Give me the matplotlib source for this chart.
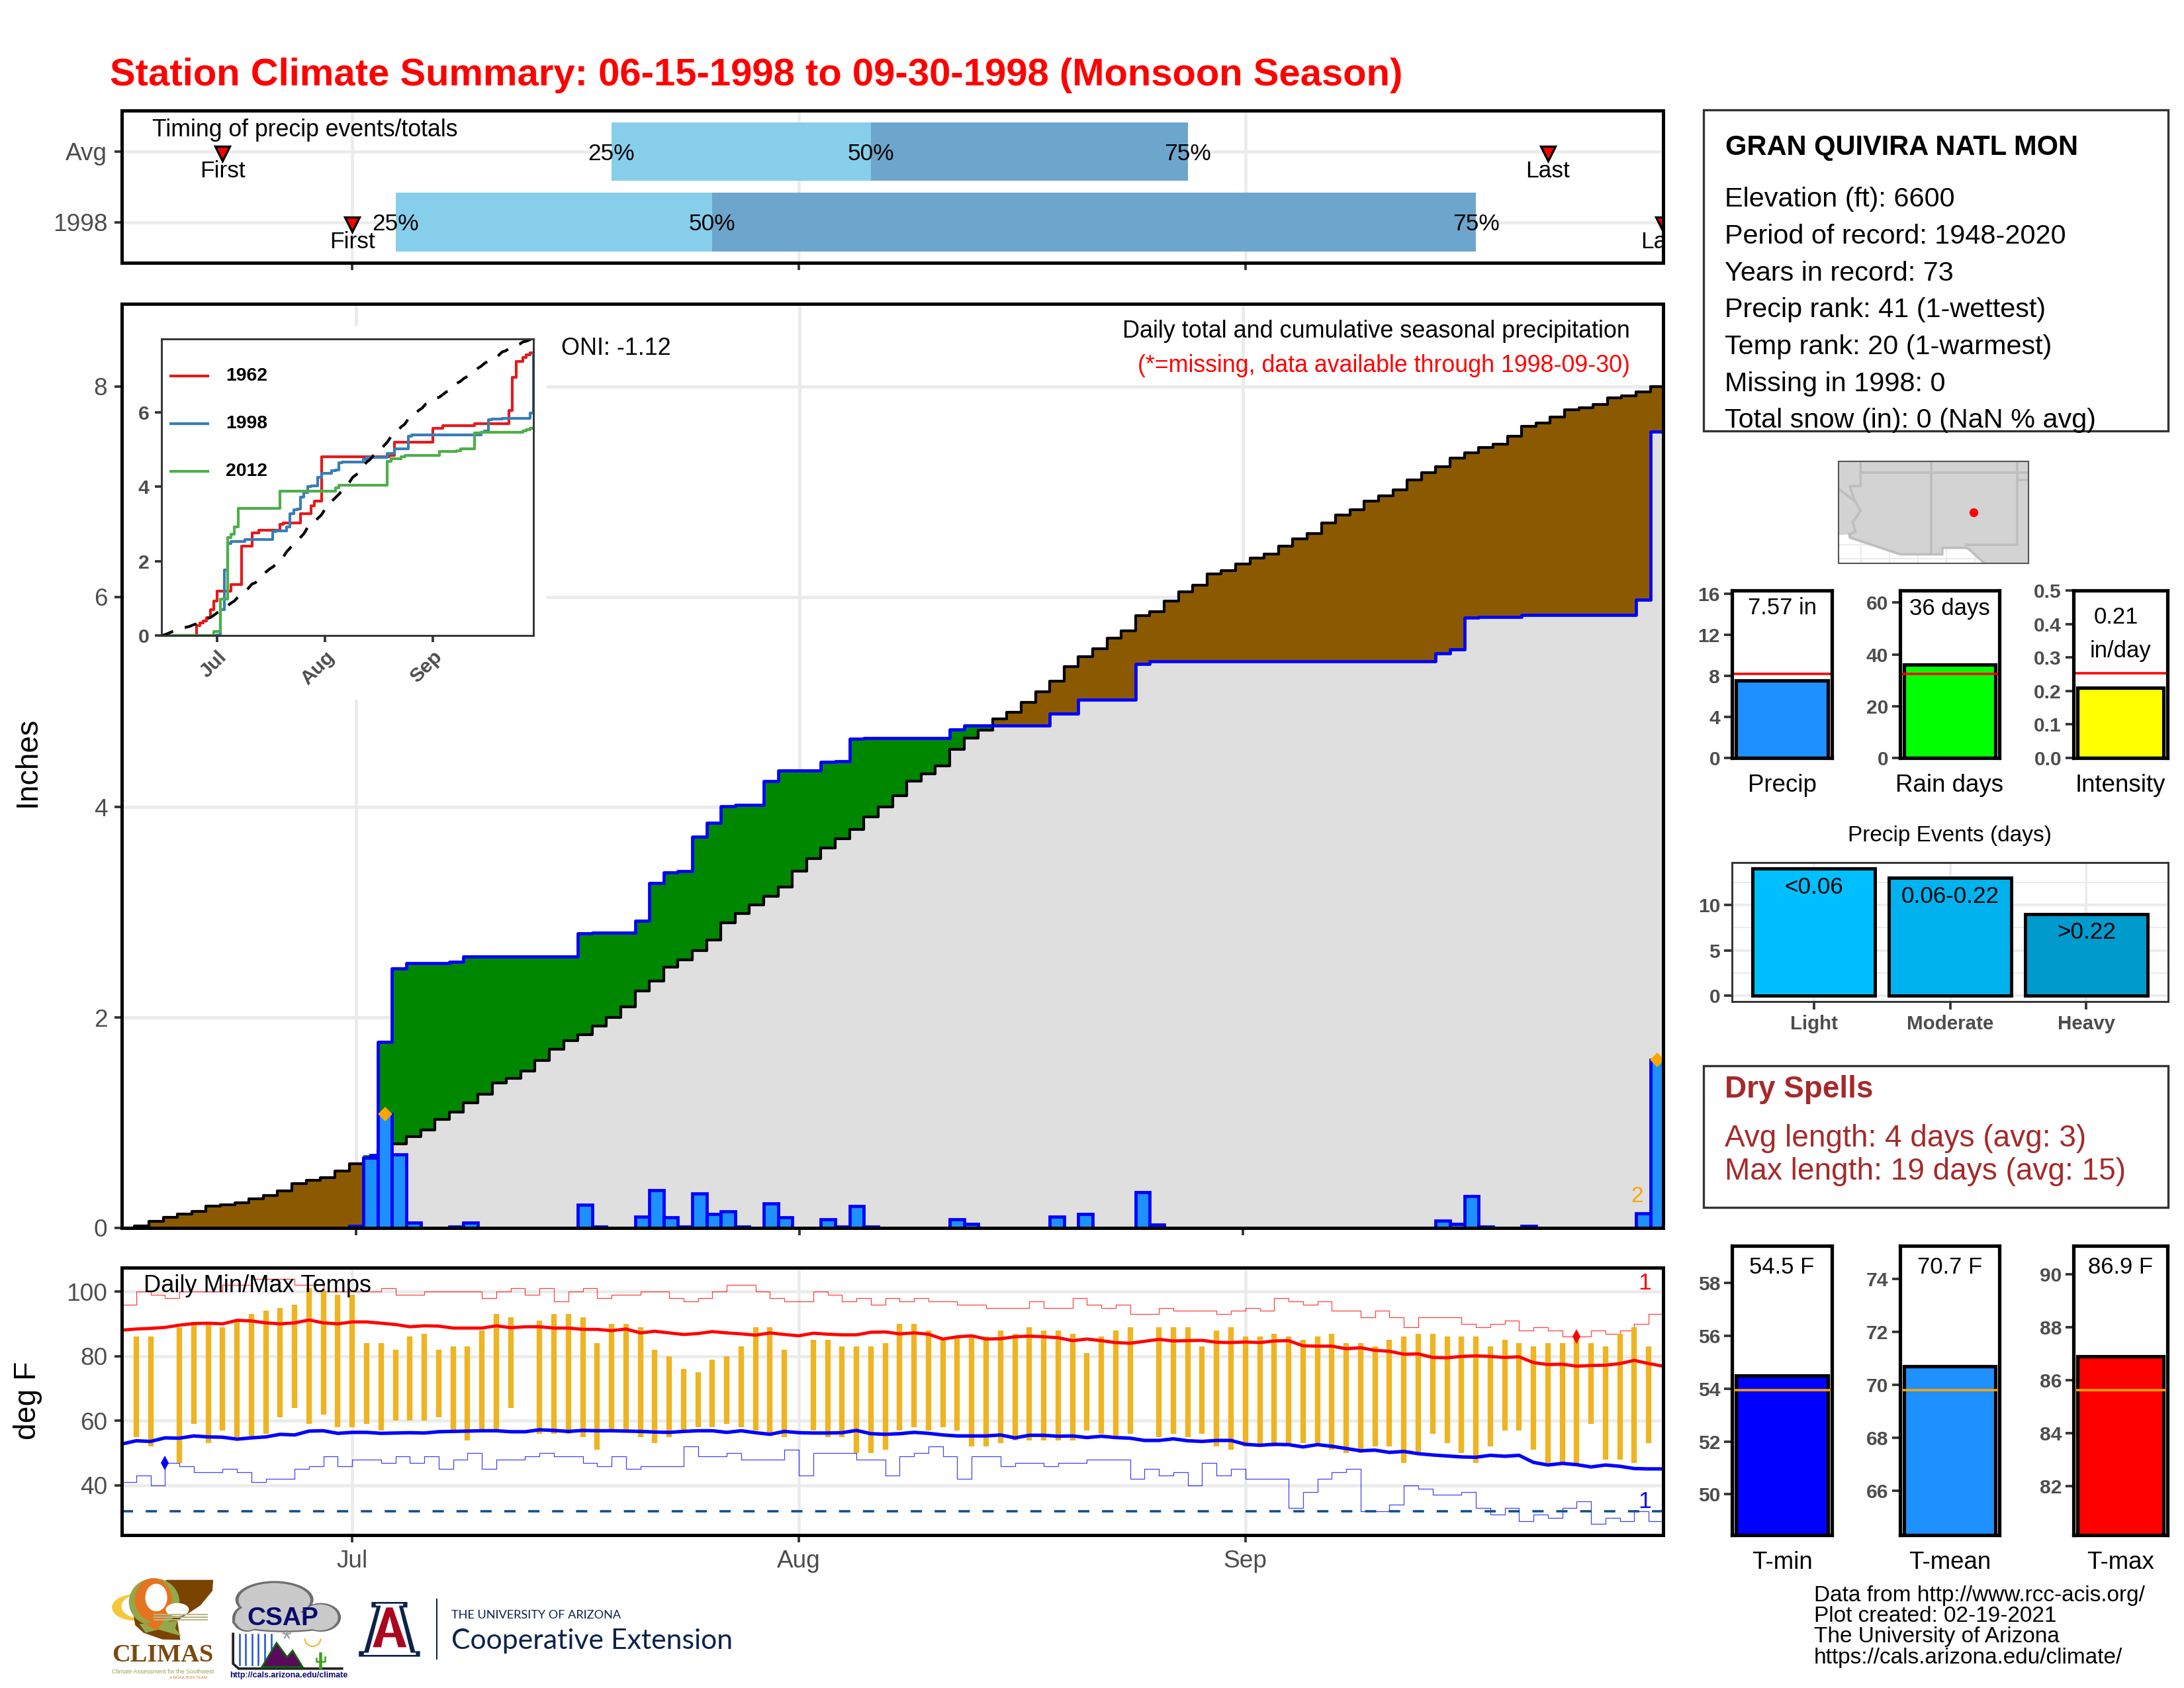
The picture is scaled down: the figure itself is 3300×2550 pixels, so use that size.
import numpy as np
import matplotlib
matplotlib.use("Agg")
import matplotlib.pyplot as plt
from matplotlib.patches import Rectangle, Ellipse, Polygon, Circle

plt.rcParams['font.family'] = ['Liberation Sans', 'DejaVu Sans']

W, H = 3300, 2550
GRID = '#EBEBEB'
TICK = '#333333'
LAB = '#4D4D4D'

# ---------- data ----------
days = np.arange(108)
month_ticks = [16, 47, 78]
month_labels = ['Jul', 'Aug', 'Sep']

daily_precip = [0]*16 + [.02, .67, 1.08, .70, .05, 0, 0, .01, .05] + [0]*7 + [.22, .01, 0, 0, .11, .36, .10, .01, .33, .13, .16, .01, 0, .23, .10, 0, 0, .08, .01, .21, .01] + [0]*5 + [.08, .04] + [0]*5 + [.11, 0, .13, 0, 0, 0, .34, .03] + [0]*19 + [.07, .04, .30, .01, 0, 0, .02] + [0]*7 + [.14, 1.60]

avg_cum = [0, .02, .06, .10, .13, .16, .21, .22, .24, .28, .31, .35, .42, .45, .48, .54, .61, .65, .75, .80,
           .87, .93, 1.03, 1.10, 1.19, 1.27, 1.38, 1.42, 1.49, 1.59, 1.70, 1.78, 1.84, 1.92, 2.00, 2.10, 2.25, 2.35, 2.48, 2.55,
           2.64, 2.74, 2.90, 2.99, 3.07, 3.15, 3.24, 3.39, 3.51, 3.61, 3.70, 3.79, 3.91, 4.00, 4.11, 4.25, 4.32, 4.39, 4.55, 4.66,
           4.73, 4.84, 4.90, 5.00, 5.10, 5.20, 5.34, 5.43, 5.51, 5.61, 5.68, 5.82, 5.86, 5.96, 6.05, 6.11, 6.22, 6.25, 6.31, 6.37,
           6.41, 6.48, 6.55, 6.60, 6.70, 6.78, 6.83, 6.91, 6.96, 7.02, 7.11, 7.18, 7.24, 7.32, 7.37, 7.42, 7.45, 7.53, 7.62, 7.65,
           7.71, 7.78, 7.80, 7.83, 7.89, 7.91, 7.95, 8.00]

year1962_x = [0, 10, 11, 12, 13, 14, 15, 16, 20, 23, 26, 28, 34, 35, 40, 43, 44, 46, 65.5, 67, 78, 81, 90, 100, 101, 102, 104, 105, 106, 107]
year1962_y = [0, .27, .34, .40, .48, .70, .92, 1.20, 1.37, 2.41, 2.76, 2.83, 2.98, 3.03, 3.27, 3.48, 3.62, 4.81, 4.84, 5.19, 5.57, 5.64, 5.70, 6.05, 6.94, 7.37, 7.47, 7.55, 7.59, 7.59]
year2012_x = [0, 15, 17, 19, 20, 21, 22, 34, 50, 51, 65, 66, 69, 70, 80, 85, 86, 90, 92, 104, 105, 106, 107]
year2012_y = [0, .10, .97, 2.63, 2.72, 2.91, 3.42, 3.88, 3.97, 4.04, 4.68, 4.75, 4.80, 4.84, 4.94, 4.97, 5.01, 5.44, 5.47, 5.50, 5.53, 5.57, 5.57]

nan = float('nan')
temp_high = [nan, 86, 86, nan, 89, 90, 90, 89, 91, 93, 94, 95, 96, 101, 100, 99, 99, 84, 84, 82, 86, 87, 82, 83, 83, 88, 93, 92, nan, 91,
             93, 93, 92, 84, 90, 90, 89, 82, 80, 76, 75, 79, 80, 83, 89, 89, 82, nan, 85, 85, 83, 83, 83, 84,
             90, 90, 88, 85, 86, 86, 86, 88, 87, 89, 88, 88, 87, 81, 86, 88, 89, nan, 89, 89, 89, 83, 88, 89, 86, 86,
             87, 86, 85, 86, 87, 84, 84, 83, 85, 86, 87, 87, 86, 86, 86, 83, 85, 84, 83, 84, 84, 85, 84, 83, 87, 89, 83, nan]
temp_low = [nan, 55, 52, nan, 47, 59, 53, 57, 55, 55, 56, 61, 64, 59, 62, 58, 58, 59, 57, 60, 60, 60, 61, 57, 54, 57, 57, 64, nan, 56,
            56, 56, 55, 51, 57, 57, 55, 53, 55, 57, 58, 58, 59, 58, 57, 56, 55, nan, 57, 55, 55, 50, 50, 51,
            57, 58, 57, 58, 57, 52, 52, 53, 54, 54, 54, 54, 54, 57, 56, 55, 56, nan, 55, 56, 55, 56, 52, 51, 52, 52,
            52, 53, 53, 53, 51, 50, 50, 52, 52, 47, 50, 56, 53, 50, 47, 52, 57, 57, 51, 47, 47, 46, 59, 48, 48, 47, 53, nan]
avg_max = [88.05, 88.4, 88.6, 88.9, 89.6, 90.1, 90.2, 90.0, 91.1, 90.9, 90.3, 90.0, 90.3, 91.2, 90.3, 90.0, 90.6, 90.6, 90.2, 89.8,
           89.1, 89.4, 89.3, 88.7, 88.7, 88.7, 89.4, 88.8, 89.1, 89.1, 88.7, 88.7, 88.3, 88.3, 87.9, 88.4, 87.2, 87.7, 87.2, 86.7,
           87.0, 87.6, 87.2, 86.9, 86.5, 87.2, 86.7, 86.3, 87.1, 86.8, 86.6, 86.6, 87.4, 87.5, 86.9, 87.2, 86.8, 85.3, 86.0, 86.3,
           85.3, 85.4, 86.0, 86.2, 86.0, 85.7, 84.8, 85.3, 84.8, 84.2, 84.0, 84.6, 85.2, 84.7, 84.8, 84.9, 84.3, 84.2, 84.4, 84.2,
           84.7, 84.8, 83.2, 83.1, 83.1, 82.3, 82.6, 81.8, 81.5, 80.6, 80.7, 79.6, 79.5, 79.9, 80.1, 79.9, 79.6, 79.8, 78.0, 77.4,
           77.5, 76.9, 77.1, 77.2, 77.7, 78.7, 77.7, 76.9]
avg_min = [52.8, 53.8, 53.6, 54.7, 54.6, 55.3, 55.0, 54.9, 54.3, 54.7, 55.0, 55.8, 55.6, 56.8, 56.9, 56.1, 56.4, 56.4, 56.1, 56.2,
           56.3, 56.2, 56.6, 56.7, 56.8, 56.9, 56.9, 56.6, 56.6, 57.2, 57.0, 56.7, 57.0, 56.9, 56.9, 56.8, 56.7, 56.5, 56.4, 56.7,
           56.9, 56.9, 56.4, 56.9, 56.3, 55.8, 56.7, 56.3, 56.2, 56.2, 56.3, 57.0, 56.0, 55.8, 56.0, 56.4, 56.1, 55.6, 55.3, 55.3,
           55.3, 55.6, 54.7, 55.5, 55.5, 55.2, 55.3, 54.8, 55.2, 54.8, 54.6, 53.9, 53.9, 54.4, 53.8, 53.6, 53.9, 53.9, 52.7, 52.4,
           52.7, 52.6, 51.9, 52.6, 52.1, 51.4, 50.7, 50.9, 50.2, 50.5, 49.8, 49.4, 49.1, 48.8, 48.7, 49.3, 49.0, 49.3, 47.1, 46.3,
           46.8, 46.4, 45.7, 46.3, 45.9, 45.2, 45.1, 45.1]
record_high = [96, 100, 99, 98, 100, 100, 100, 102, 102, 104, 104, 104, 102, 102, 100, 100, 100, 100, 101, 99, 99, 100, 100, 100, 100, 98, 100, 101, 99, 101,
               97, 100, 101, 98, 99, 99, 100, 100, 98, 97, 98, 100, 102, 102, 100, 98, 97, 97, 100, 99, 97, 98, 96, 98,
               97, 98, 97, 97, 96, 96, 95, 95, 95, 97, 95, 95, 98, 96, 95, 96, 93, 93, 95, 94, 94, 94, 93, 94, 95, 94,
               98, 97, 96, 97, 94, 94, 92, 94, 92, 89, 92, 92, 92, 90, 89, 90, 91, 88, 89, 88, 86, 86, 88, 87, 88, 90, 93, 93]
record_low = [41, 43, 40, 47, 46, 44, 44, 45, 44, 41, 42, 42, 45, 46, 49, 46, 48, 48, 47, 49, 47, 49, 45, 48, 50, 45, 48, 48, 49, 50,
              49, 49, 47, 46, 49, 45, 46, 46, 46, 52, 49, 49, 50, 48, 48, 48, 51, 43, 50, 50, 50, 48, 48, 43,
              49, 50, 52, 49, 42, 49, 49, 46, 47, 47, 46, 47, 47, 48, 48, 48, 42, 45, 43, 44, 40, 47, 43, 45, 42, 42,
              42, 33, 38, 42, 44, 45, 32, 32, 34, 40, 39, 37, 37, 38, 33, 31, 33, 29, 31, 30, 33, 35, 28, 30, 29, 32, 29, 29]

timing_rows = ['Avg', '1998']
timing_q25 = [34, 19]
timing_q50 = [52, 41]
timing_q75 = [74, 94]
timing_first = [7, 16]
timing_last = [99, 107]

stat_names = ['Precip', 'Rain days', 'Intensity']
stat_values = [7.57, 36, 0.21]
stat_avgs = [8.2, 32.6, 0.252]
event_names = ['Light', 'Moderate', 'Heavy']
event_labels = ['<0.06', '0.06-0.22', '>0.22']
event_counts = [14, 13, 9]
temp_names = ['T-min', 'T-mean', 'T-max']
temp_bar_tops = [54.5, 70.7, 86.9]
temp_avgs = [53.94, 69.79, 85.62]
temp_texts = ['54.5 F', '70.7 F', '86.9 F']

# ---------- helpers ----------
fig = plt.figure(figsize=(11, 8.5), dpi=300, facecolor='white')

def panel(x0, x1, y0, y1, z=1):
    a = fig.add_axes([x0/W, 1-y1/H, (x1-x0)/W, (y1-y0)/H], zorder=z)
    return a

ov = fig.add_axes([0, 0, 1, 1], zorder=20)
ov.set_xlim(0, W); ov.set_ylim(H, 0); ov.axis('off'); ov.patch.set_alpha(0)

def T(x, y, s, size=8.3, color='black', ha='left', va='center', weight='normal', **kw):
    return ov.text(x, y+3, s, fontsize=size, color=color, ha=ha, va=va, fontweight=weight, **kw)

def fit(t, px):
    r = fig.canvas.get_renderer()
    e = t.get_window_extent(r).width
    t.set_fontsize(t.get_fontsize()*px/e)

def style(a, lw=1.2, color='black'):
    for s in a.spines.values():
        s.set_linewidth(lw); s.set_color(color); s.set_zorder(15)
    a.tick_params(length=2.6, width=0.9, color=TICK, labelcolor=LAB, labelsize=8.9, pad=2.6)
    a.set_axisbelow(True)

# ---------- title ----------
fit(T(166, 111, 'Station Climate Summary: 06-15-1998 to 09-30-1998 (Monsoon Season)', size=14, color='#FF0000', weight='bold'), 1954)

# ---------- timing panel ----------
top = panel(184, 2513, 167, 397)
style(top)
top.set_xlim(0, 107); top.set_ylim(0.424, 2.58)
top.set_xticks(month_ticks); top.set_xticklabels([])
top.set_yticks([2, 1]); top.set_yticklabels(timing_rows)
top.grid(True, color=GRID, lw=1.1)
for k, row_y in enumerate([2, 1]):
    top.barh(row_y, timing_q50[k]-timing_q25[k], left=timing_q25[k], height=.83, color='#87CEEB', zorder=2)
    top.barh(row_y, timing_q75[k]-timing_q50[k], left=timing_q50[k], height=.83, color='#6CA6CD', zorder=2)
    for q, lab in zip([timing_q25[k], timing_q50[k], timing_q75[k]], ['25%', '50%', '75%']):
        top.text(q, row_y-.03, lab, fontsize=8.5, ha='center', va='center', zorder=5)
    for d, lab in [(timing_first[k], 'First'), (timing_last[k], 'Last')]:
        top.plot([d], [row_y-.03], marker='v', ms=5.2, mfc='#FF0000', mec='black', mew=.8, zorder=6, clip_on=True)
        top.text(d, row_y-.28, lab, fontsize=8.5, ha='center', va='center', zorder=6, clip_on=True)
T(230, 193, 'Timing of precip events/totals', size=8.57)

# ---------- main precip panel ----------
ax = panel(184, 2513, 459, 1855)
style(ax)
ax.set_xlim(-0.4, 107.4); ax.set_ylim(0, 8.786)
ax.set_xticks(month_ticks); ax.set_xticklabels([])
ax.set_yticks([0, 2, 4, 6, 8])
ax.grid(True, color=GRID, lw=1.2)
cum = np.cumsum(daily_precip)
xe = np.r_[-1, days, 108]
ae = np.r_[0, np.array(avg_cum), avg_cum[-1]]
ce = np.r_[0, cum, cum[-1]]
ax.fill_between(xe, 0, np.minimum(ae, ce), step='mid', color='#DFDFDF', lw=0, zorder=2)
ax.fill_between(xe, ae, np.maximum(ae, ce), step='mid', color='#008700', lw=0, zorder=2)
ax.fill_between(xe, ce, np.maximum(ae, ce), step='mid', color='#8B5A00', lw=0, zorder=2)
ax.step(xe, ae, where='mid', color='black', lw=1.0, zorder=3)
ax.step(xe[18:], ce[18:], where='mid', color='#0000FF', lw=1.15, zorder=4)
nz = np.array(daily_precip) > 0
ax.bar(days[nz], np.array(daily_precip)[nz], width=1, color='#1E90FF', edgecolor='#0000FF', lw=1.15, zorder=5)
ax.plot([18, 107], [daily_precip[18], daily_precip[107]], ls='none', marker='D', ms=2.6, color='#FFA500', zorder=7, clip_on=False)
ax.text(105.6, 0.30, '2', fontsize=8, color='#FFA500', ha='center', va='center', zorder=7)

T(2463, 497, 'Daily total and cumulative seasonal precipitation', size=8.64, ha='right')
T(2463, 549, '(*=missing, data available through 1998-09-30)', size=8.6, color='#FF0000', ha='right')
T(848, 523, 'ONI: -1.12', size=8.65)
T(42, 1148, 'Inches', size=11.1, ha='center', rotation=90)

# white backing + inset
bg = panel(187, 826, 492, 1057, z=5)
bg.axis('off'); bg.add_patch(Rectangle((0, 0), 1, 1, color='white', transform=bg.transAxes))
ins = panel(244, 806, 512, 960, z=6)
style(ins, lw=.7, color=TICK)
ins.set_xlim(0, 107); ins.set_ylim(0, 7.97)
ins.set_xticks(month_ticks); ins.set_xticklabels(month_labels, rotation=45, ha='right', rotation_mode='anchor', fontweight='bold', fontsize=7.3, color=LAB)
ins.set_yticks([0, 2, 4, 6]); ins.set_yticklabels(['0', '2', '4', '6'], fontweight='bold', fontsize=7.3, color=LAB)
ins.tick_params(length=2.4, width=.9, color=TICK, pad=2)
ins.step(year1962_x, year1962_y, where='post', color='#E41A1C', lw=1.0, zorder=3)
ins.step(days, cum, where='post', color='#377EB8', lw=1.0, zorder=4)
ins.step(year2012_x, year2012_y, where='post', color='#4DAF4A', lw=1.0, zorder=5)
ins.plot(days, avg_cum, color='black', lw=1.0, dashes=(4.5, 4.5), zorder=6)
for yy, name, c in [(568, '1962', '#E41A1C'), (640, '1998', '#377EB8'), (712, '2012', '#4DAF4A')]:
    ov.plot([257.5, 314], [yy, yy], color=c, lw=1.0)
    T(341, yy-3, name, size=6.8, weight='bold')

# ---------- temperature panel ----------
tp = panel(184, 2513, 1915, 2319)
style(tp)
tp.set_xlim(0, 107); tp.set_ylim(24.6, 107.4)
tp.set_xticks(month_ticks); tp.set_xticklabels(month_labels)
tp.set_yticks([40, 60, 80, 100])
tp.grid(True, color=GRID, lw=1.1)
tp.step(days, record_high, where='post', color='#FF0000', lw=.3, alpha=.75, zorder=3)
tp.step(days, record_low, where='post', color='#0000FF', lw=.3, alpha=.75, zorder=3)
tp.vlines(days, temp_low, temp_high, color='#EEB422', lw=2.0, zorder=4)
tp.axhline(32, color='#104E8B', lw=.85, dashes=(4.8, 5.4), zorder=4)
tp.plot(days, avg_max, color='#FF0000', lw=1.15, zorder=5)
tp.plot(days, avg_min, color='#0000FF', lw=1.25, zorder=5)
tp.plot([3], [record_low[3]], marker='d', ms=3.6, color='#0000FF', mew=0, zorder=6)
tp.plot([101], [record_high[101]], marker='d', ms=3.6, color='#FF0000', mew=0, zorder=6)
T(217, 1939, 'Daily Min/Max Temps', size=8.7)
T(2485, 1936, '1', size=8.5, color='#FF0000', ha='center')
T(2485, 2266, '1', size=8.5, color='#0000FF', ha='center')
T(42, 2113, 'deg F', size=11.1, ha='center', rotation=90)

# ---------- info box ----------
ov.add_patch(Rectangle((2574, 166), 702, 485, fc='none', ec=TICK, lw=.8))
T(2607, 220, 'GRAN QUIVIRA NATL MON', size=10, weight='bold')
info = ['Elevation (ft): 6600', 'Period of record: 1948-2020', 'Years in record: 73', 'Precip rank: 41 (1-wettest)',
        'Temp rank: 20 (1-warmest)', 'Missing in 1998: 0', 'Total snow (in): 0 (NaN % avg)']
for yy, s in zip([298, 354, 410, 465, 521, 577, 632], info):
    T(2606, yy, s, size=9.95)

# ---------- map ----------
mp = panel(2778, 3065, 697, 851)
mp.set_xlim(-115.6, -102.2); mp.set_ylim(30.7, 37.8)
mp.set_xticks([]); mp.set_yticks([])
for s in mp.spines.values():
    s.set_linewidth(.5); s.set_color('#555555')
for v in [-114, -112, -110, -108, -106, -104]:
    mp.axvline(v, color=GRID, lw=.5, zorder=0)
for v in [31, 32]:
    mp.axhline(v, color=GRID, lw=.5, zorder=0)
land_lon = [-115.6, -114.83, -114.8, -111.25, -108.28, -108.28, -106.6, -106.41, -105.3, -102.2, -102.2, -115.6]
land_lat = [32.67, 32.72, 32.5, 31.33, 31.33, 31.78, 31.78, 31.7, 30.7, 30.7, 37.8, 37.8]
mp.fill(land_lon, land_lat, color='#D3D3D3', lw=0, zorder=1)
bc = '#BEBEBE'
mp.plot(land_lon[1:9], land_lat[1:9], color=bc, lw=.9, zorder=2)
mp.plot([-114.05, -114.05, -114.8, -114.5, -114.05, -114.6, -114.4, -114.83], [37.8, 36.08, 36.08, 35.15, 34.35, 33.55, 32.9, 32.72], color=bc, lw=.9, zorder=2)
mp.plot([-115.6, -114.55], [35.9, 35.1], color=bc, lw=.9, zorder=2)
mp.plot([-109.05, -109.05], [37.8, 31.33], color=bc, lw=.9, zorder=2)
mp.plot([-114.05, -102.2], [37, 37], color=bc, lw=.9, zorder=2)
mp.plot([-103.0, -103.0, -106.6], [37.8, 32.0, 32.0], color=bc, lw=.9, zorder=2)
mp.plot([-103.0, -102.2], [36.5, 36.5], color=bc, lw=.9, zorder=2)
mp.plot([-106.09], [34.26], 'o', color='#FF0000', ms=3.2, mew=0, zorder=3)

# ---------- small stat bars ----------
def small_bar(x0, x1, y0, y1, val, avg, color, ylim, ticks, ticklabels, avgc, edge='black'):
    a = panel(x0, x1, y0, y1)
    style(a, lw=1.25)
    a.set_xlim(0, 1); a.set_ylim(*ylim)
    a.set_xticks([]); a.set_yticks(ticks); a.set_yticklabels(ticklabels, fontweight='bold', fontsize=7.2, color=LAB)
    a.tick_params(length=2.8, width=.9, color=TICK, pad=1.5)
    a.bar(.5, val, width=.92, color=color, edgecolor=edge, lw=1.25, zorder=3, bottom=0)
    a.axhline(avg, color=avgc, lw=.85, zorder=5)
    return a

c1, c2, c3 = (2617, 2768), (2871, 3021), (3133, 3275)
small_bar(*c1, 892, 1145, stat_values[0], stat_avgs[0], '#1E90FF', (0, 16.3), [0, 4, 8, 12, 16], ['0', '4', '8', '12', '16'], '#FF0000')
small_bar(*c2, 892, 1145, stat_values[1], stat_avgs[1], '#00FF00', (0, 64.7), [0, 20, 40, 60], ['0', '20', '40', '60'], '#FF0000')
small_bar(*c3, 892, 1145, stat_values[2], stat_avgs[2], '#FFFF00', (0, .5), [0, .1, .2, .3, .4, .5], ['0.0', '0.1', '0.2', '0.3', '0.4', '0.5'], '#FF0000')
T(2693, 916, '7.57 in', size=8.3, ha='center')
T(2946, 916, '36 days', size=8.3, ha='center')
T(3197, 929, '0.21', size=8.3, ha='center')
T(3204, 980, 'in/day', size=8.3, ha='center')
for c, name in zip([c1, c2, c3], stat_names):
    T(sum(c)/2, 1183, name, size=8.8, ha='center')

# ---------- precip events ----------
ev = panel(2617, 3276, 1303, 1513)
style(ev, lw=.7, color=TICK)
ev.set_xlim(.4, 3.6); ev.set_ylim(-.64, 14.67)
ev.set_xticks([1, 2, 3]); ev.set_xticklabels(event_names, fontweight='bold', fontsize=7.1, color=LAB)
ev.set_yticks([0, 5, 10]); ev.set_yticklabels(['0', '5', '10'], fontweight='bold', fontsize=7.2, color=LAB)
ev.set_yticks([2.5, 7.5, 12.5], minor=True)
ev.grid(True, color=GRID, lw=.9)
ev.grid(True, which='minor', axis='y', color=GRID, lw=.5)
ev.tick_params(axis='y', length=2.8, width=.9, color=TICK, pad=1.5)
ev.tick_params(axis='x', length=2.8, width=.9, color=TICK, pad=2)
ev.tick_params(which='minor', length=0)
ev.bar([1, 2, 3], event_counts, width=.9, color=['#00BFFF', '#00B2EE', '#009ACD'], edgecolor='black', lw=1.2, zorder=3)
for x, v, s in zip([1, 2, 3], event_counts, event_labels):
    ev.text(x, v-2.05, s, fontsize=8.4, ha='center', va='center', zorder=5)
T(2946.5, 1260, 'Precip Events (days)', size=8, ha='center')

# ---------- dry spells ----------
BR = '#A52A2A'
ov.add_patch(Rectangle((2574, 1610), 702, 214, fc='none', ec=TICK, lw=.8))
T(2606, 1643, 'Dry Spells', size=11, color=BR, weight='bold')
T(2606, 1717, 'Avg length: 4 days (avg: 3)', size=11.05, color=BR)
T(2606, 1767, 'Max length: 19 days (avg: 15)', size=11.05, color=BR)

# ---------- temp bars ----------
small_bar(*c1, 1882, 2319, temp_bar_tops[0], temp_avgs[0], '#0000FF', (48.46, 59.4), [50, 52, 54, 56, 58], ['50', '52', '54', '56', '58'], '#FFA500')
small_bar(*c2, 1882, 2319, temp_bar_tops[1], temp_avgs[1], '#1E90FF', (64.32, 75.24), [66, 68, 70, 72, 74], ['66', '68', '70', '72', '74'], '#FFA500')
small_bar(*c3, 1882, 2319, temp_bar_tops[2], temp_avgs[2], '#FF0000', (80.15, 91.08), [82, 84, 86, 88, 90], ['82', '84', '86', '88', '90'], '#FFA500')
for c, name, s in zip([c1, c2, c3], temp_names, temp_texts):
    T(sum(c)/2, 2358, name, size=8.8, ha='center')
    T(sum(c)/2, 1911, s, size=8.3, ha='center')

for yy, s in zip([2407, 2438.5, 2470, 2502], ['Data from http://www.rcc-acis.org/', 'Plot created: 02-19-2021', 'The University of Arizona', 'https://cals.arizona.edu/climate/']):
    T(2741, yy, s, size=8.0)

# ---------- logos (drawn) ----------
def Z(x, y):
    return (150 + x/1.568, 2360 + y/3)
def poly(pts, color, z=2, **kw):
    ov.add_patch(Polygon([Z(*p) for p in pts], closed=True, fc=color, ec='none', zorder=z, **kw))
def ell(x, y, w, h, color, z=2, **kw):
    cx, cy = Z(x, y)
    ov.add_patch(Ellipse((cx, cy), w/1.568, h/3, fc=color, ec=kw.pop('ec', 'none'), zorder=z, **kw))

# CLIMAS
ell(85, 205, 110, 120, '#F5C83C', 2)
ell(105, 200, 105, 115, 'white', 2.1)
poly([(160, 80), (270, 80), (268, 130), (240, 195), (185, 265), (192, 352), (150, 350), (105, 320), (85, 285), (75, 170)], '#7A4300', 2.2)
ell(130, 180, 120, 215, '#93A84A', 2.3)
poly([(95, 280), (185, 265), (180, 300), (195, 335), (140, 305), (110, 320)], '#93A84A', 2.3)
ell(128, 170, 88, 195, '#E57420', 2.4)
ell(135, 160, 52, 125, 'white', 2.5)
ell(185, 215, 55, 60, 'white', 2.6)
poly([(110, 280), (165, 235), (135, 310)], '#E57420', 2.7)
for y in [238, 250, 262]:
    ov.plot(*zip(Z(130, y), Z(255, y)), color='#B8B88A', lw=.5, zorder=2.8)
fit(T(246, 2498, 'CLIMAS', size=12, color='#7A4A10', ha='center', family='Liberation Serif', weight='bold'), 154)
fit(T(246, 2523, 'Climate Assessment for the Southwest', size=3, color='#93A84A', ha='center'), 155)
fit(T(285, 2531, 'A NOAA RISA TEAM', size=2, color='#E57420', ha='center'), 58)

# CSAP
for x, y, w, h in [(415, 170, 185, 170), (350, 255, 70, 120), (525, 250, 95, 130), (440, 270, 250, 95)]:
    ell(x, y, w, h, '#6E6E6E', 3)
for x, y, w, h in [(415, 172, 170, 155), (352, 255, 60, 108), (523, 250, 85, 118), (440, 268, 238, 85)]:
    ell(x, y, w, h, '#C9C9C9', 3.1)
fit(T(427, 2442, 'CSAP', size=12, color='#0A0A6E', ha='center', weight='bold', zorder=4), 108)
for x in [332, 347, 362, 377, 392, 408]:
    ov.plot(*zip(Z(x, 328), Z(x, 465)), color='#1F4FE0', lw=.6, zorder=3)
ov.plot(*zip(Z(317, 325), Z(317, 460), Z(330, 482), Z(575, 482)), color='#222222', lw=.9, zorder=3)
mtn = [Z(385, 475), Z(420, 365), Z(445, 430), Z(458, 400), Z(482, 475)]
ov.add_patch(Polygon(mtn, closed=True, fc='#5A0A5A', ec='#0A6A0A', lw=.6, zorder=3.2))
ov.plot(*zip(Z(524, 415), Z(524, 478)), color='#3DA01A', lw=1.1, zorder=3.2)
ov.plot(*zip(Z(514, 435), Z(514, 450), Z(534, 450), Z(534, 430)), color='#3DA01A', lw=.6, zorder=3.2)
T(*Z(505, 335), '\u25E1', size=8, color='#F0B020', ha='center', zorder=3.2, family='DejaVu Sans')
T(*Z(444, 345), '*', size=9, color='#999999', ha='center', zorder=3.2)
fit(T(436, 2528, 'http://cals.arizona.edu/climate', size=5, color='#0A0A6E', ha='center', weight='bold'), 178)

# Arizona A
NAVY = '#0C234B'
poly([(645, 180), (730, 180), (730, 205), (720, 205), (748, 403), (760, 403), (760, 428), (615, 428), (615, 403), (628, 403), (657, 205), (645, 205)], NAVY, 3)
poly([(655, 188), (720, 188), (720, 197), (710, 197), (738, 410), (750, 410), (750, 420), (627, 420), (627, 410), (638, 410), (667, 197), (655, 197)], 'white', 3.1)
poly([(680, 205), (695, 205), (728, 385), (708, 385), (702, 340), (673, 340), (668, 385), (648, 385)], '#AB0520', 3.2)
poly([(688, 245), (698, 320), (677, 320)], 'white', 3.3)
ov.plot(*zip(Z(800, 168), Z(800, 438)), color=NAVY, lw=.5, zorder=3)
fit(T(682.5, 2437, 'THE UNIVERSITY OF ARIZONA', size=5, color=NAVY, family='Lato'), 258)
fit(T(682.5, 2476, 'Cooperative Extension', size=9, color=NAVY, family='Lato'), 427)

fig.savefig('out.png', dpi=300)
